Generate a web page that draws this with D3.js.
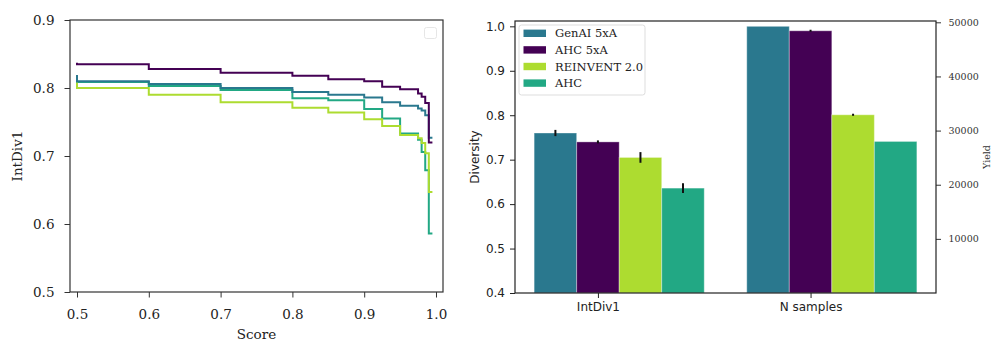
<!DOCTYPE html>
<html>
<head>
<meta charset="utf-8">
<script src="https://cdn.jsdelivr.net/npm/d3@7"></script>
<style>
  body { margin: 0; background: #fff; }
  .serif { font-family: "DejaVu Serif", serif; }
  .sans { font-family: "DejaVu Sans", sans-serif; }
</style>
</head>
<body>
<svg id="chart" width="992" height="342"></svg>
<script>
// Métodos y colores (viridis)
const methods = ["GenAI 5xA", "AHC 5xA", "REINVENT 2.0", "AHC"];
const colors = ["#2a788e", "#440154", "#addc30", "#22a884"];

// Panel izquierdo: IntDiv1 según umbral de score (escalones)
const scoreThresholds = [0.5, 0.6, 0.7, 0.8, 0.85, 0.9, 0.925, 0.95, 0.975, 0.98, 0.985, 0.99, 0.995];
const genaiCurve    = [0.819, 0.810, 0.806, 0.800, 0.794, 0.790, 0.786, 0.779, 0.774, 0.770, 0.767, 0.760, 0.727];
const ahc5xaCurve   = [0.837, 0.835, 0.828, 0.8225, 0.818, 0.813, 0.810, 0.802, 0.798, 0.792, 0.787, 0.778, 0.720];
const reinventCurve = [0.808, 0.800, 0.790, 0.779, 0.771, 0.764, 0.754, 0.744, 0.731, 0.726, 0.719, 0.704, 0.647];
const ahcCurve      = [0.812, 0.809, 0.803, 0.797, 0.785, 0.782, 0.769, 0.755, 0.733, 0.724, 0.706, 0.679, 0.586];

// Panel derecho: barras
const metrics = ["IntDiv1", "N samples"];
const intdivMean = [0.760, 0.740, 0.705, 0.636];
const intdivErr  = [0.007, 0.002, 0.012, 0.011];
const nSamplesNorm = [1.0, 0.990, 0.801, 0.741];
const nSamplesErr  = [0, 0.001, 0.001, 0];

const leftXTicks = [0.5, 0.6, 0.7, 0.8, 0.9, 1.0];
const leftYTicks = [0.5, 0.6, 0.7, 0.8, 0.9];
const divTicks = [0.4, 0.5, 0.6, 0.7, 0.8, 0.9, 1.0];
const yieldTicks = [10000, 20000, 30000, 40000, 50000];

const svg = d3.select("#chart");
svg.append("rect").attr("width", 992).attr("height", 342).attr("fill", "#fff");

// ---------- Panel izquierdo ----------
const L = { left: 70, right: 443, top: 20, bottom: 292 };
const xL = d3.scaleLinear().domain([0.49025, 1.00975]).range([L.left, L.right]);
const yL = d3.scaleLinear().domain([0.5, 0.9]).range([L.bottom, L.top]);

const gL = svg.append("g").attr("class", "serif");

const curves = [ahcCurve, reinventCurve, genaiCurve, ahc5xaCurve];
const curveColors = [colors[3], colors[2], colors[0], colors[1]];
const line = d3.line()
  .x((d, i) => xL(scoreThresholds[i]))
  .y(d => yL(d))
  .curve(d3.curveStepBefore);

curves.forEach((c, k) => {
  gL.append("path")
    .attr("d", line(c))
    .attr("fill", "none")
    .attr("stroke", curveColors[k])
    .attr("stroke-width", 2);
});

const axL_x = gL.append("g")
  .attr("transform", `translate(0,${L.bottom})`)
  .call(d3.axisBottom(xL).tickValues(leftXTicks).tickFormat(d3.format(".1f")).tickSize(5.5).tickPadding(12));
const axL_y = gL.append("g")
  .attr("transform", `translate(${L.left},0)`)
  .call(d3.axisLeft(yL).tickValues(leftYTicks).tickFormat(d3.format(".1f")).tickSize(5.5).tickPadding(10));
[axL_x, axL_y].forEach(a => {
  a.select(".domain").remove();
  a.selectAll("line").attr("stroke", "#333").attr("stroke-width", 1);
  a.selectAll("text").attr("fill", "#222").style("font-size", "13.5px").style("font-family", "DejaVu Serif");
});

gL.append("rect")
  .attr("x", L.left).attr("y", L.top)
  .attr("width", L.right - L.left).attr("height", L.bottom - L.top)
  .attr("fill", "none").attr("stroke", "#333").attr("stroke-width", 1.2);

// leyenda vacía
gL.append("rect")
  .attr("x", 424.5).attr("y", 27.5).attr("width", 12).attr("height", 11).attr("rx", 2)
  .attr("fill", "#fff").attr("stroke", "#e6e6e6");

gL.append("text")
  .attr("x", (L.left + L.right) / 2).attr("y", 339)
  .attr("text-anchor", "middle").attr("fill", "#222")
  .style("font-size", "13.5px").text("Score");
gL.append("text")
  .attr("transform", `translate(21.5,${(L.top + L.bottom) / 2}) rotate(-90)`)
  .attr("text-anchor", "middle").attr("fill", "#222")
  .style("font-size", "13.5px").text("IntDiv1");

// ---------- Panel derecho ----------
const R = { left: 515, right: 936, top: 21, bottom: 293 };
const xR = d3.scaleLinear().domain([-0.39, 1.59]).range([R.left, R.right]);
const yR = d3.scaleLinear().domain([0.4, 1.012]).range([R.bottom, R.top]);
const yYield = d3.scaleLinear().domain([0, 50240]).range([R.bottom, R.top]);
const barW = 0.2;

const gR = svg.append("g");

const groups = [
  { mean: intdivMean, err: intdivErr },
  { mean: nSamplesNorm, err: nSamplesErr }
];

groups.forEach((grp, i) => {
  methods.forEach((m, k) => {
    const cx = i + (k - 1) * barW;
    gR.append("rect")
      .attr("x", xR(cx - barW / 2))
      .attr("y", yR(grp.mean[k]))
      .attr("width", xR(cx + barW / 2) - xR(cx - barW / 2))
      .attr("height", yR(0.4) - yR(grp.mean[k]))
      .attr("fill", colors[k])
      .attr("stroke", "#fff").attr("stroke-opacity", 0.35).attr("stroke-width", 1);
  });
});

// barras de error
groups.forEach((grp, i) => {
  methods.forEach((m, k) => {
    if (grp.err[k] <= 0) return;
    const cx = i + (k - 1) * barW;
    gR.append("line")
      .attr("x1", xR(cx)).attr("x2", xR(cx))
      .attr("y1", yR(grp.mean[k] - grp.err[k]) + (grp.err[k] < 0.003 ? 0.6 : 0))
      .attr("y2", yR(grp.mean[k] + grp.err[k]) - (grp.err[k] < 0.003 ? 0.6 : 0))
      .attr("stroke", "#111").attr("stroke-width", 2);
  });
});

const axR_x = gR.append("g")
  .attr("transform", `translate(0,${R.bottom})`)
  .call(d3.axisBottom(xR).tickValues([0, 1]).tickFormat(i => metrics[i]).tickSize(5).tickPadding(4));
const axR_y = gR.append("g")
  .attr("transform", `translate(${R.left},0)`)
  .call(d3.axisLeft(yR).tickValues(divTicks).tickFormat(d3.format(".1f")).tickSize(5).tickPadding(5));
[axR_x, axR_y].forEach(a => {
  a.select(".domain").remove();
  a.selectAll("line").attr("stroke", "#222");
  a.selectAll("text").attr("fill", "#222").style("font-size", "12px").style("font-family", "DejaVu Sans");
});
const axR_y2 = gR.append("g")
  .attr("transform", `translate(${R.right},0)`)
  .call(d3.axisRight(yYield).tickValues(yieldTicks).tickFormat(d3.format("d")).tickSize(5).tickPadding(7.5));
axR_y2.select(".domain").remove();
axR_y2.selectAll("line").attr("stroke", "#333");
axR_y2.selectAll("text").attr("fill", "#333").style("font-size", "9.5px").style("font-family", "DejaVu Serif");

gR.append("rect")
  .attr("x", R.left).attr("y", R.top)
  .attr("width", R.right - R.left).attr("height", R.bottom - R.top)
  .attr("fill", "none").attr("stroke", "#222").attr("stroke-width", 1.2);

gR.append("text")
  .attr("transform", `translate(478.5,${(R.top + R.bottom) / 2}) rotate(-90)`)
  .attr("text-anchor", "middle").attr("fill", "#222")
  .style("font-size", "12px").style("font-family", "DejaVu Sans").text("Diversity");
gR.append("text")
  .attr("transform", `translate(990,${(R.top + R.bottom) / 2}) rotate(-90)`)
  .attr("text-anchor", "middle").attr("fill", "#333")
  .style("font-size", "9.5px").style("font-family", "DejaVu Serif").text("Yield");

// leyenda
const leg = gR.append("g").attr("class", "serif");
leg.append("rect")
  .attr("x", 519).attr("y", 25).attr("width", 126).attr("height", 70).attr("rx", 2.5)
  .attr("fill", "#fff").attr("fill-opacity", 0.8).attr("stroke", "#ddd");
methods.forEach((m, k) => {
  const cy = 33.3 + k * 16.6;
  leg.append("rect")
    .attr("x", 523.5).attr("y", cy - 3.7).attr("width", 22.5).attr("height", 7.4)
    .attr("fill", colors[k]);
  leg.append("text")
    .attr("x", 555).attr("y", cy).attr("dy", "0.35em")
    .attr("fill", "#222").style("font-size", "11.5px").text(m);
});
</script>
</body>
</html>
